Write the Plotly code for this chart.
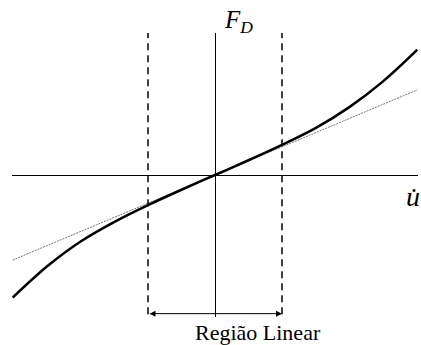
import plotly.graph_objects as go

# Damping force F_D against velocity u-dot (nondimensional units)
u_curve = [-3.02, -2.5, -2.0, -1.5, -1.0, -0.5, 0.0, 0.5, 1.0, 1.5, 2.0, 2.5, 3.02]
f_curve = [-1.83, -1.36, -0.99, -0.70, -0.45, -0.22, 0.0, 0.22, 0.45, 0.70, 1.01, 1.39, 1.87]

# Linear approximation (tangent at the origin)
u_lin = [-3.02, 3.02]
f_lin = [-1.27, 1.27]

# Limits of the linear region
region = [-1.0, 1.0]

# Plot-area geometry in pixels (used to place the text labels)
W, H = 421, 345
ML, MR, MT, MB = 12, 3, 33, 28
PW, PH = W - ML - MR, H - MT - MB


def px(xp, yp):
    return (xp - ML) / PW, (H - MB - yp) / PH


fig = go.Figure()
fig.add_trace(go.Scatter(x=u_lin, y=f_lin, mode="lines",
                         line=dict(color="#777777", width=1, dash="2px,1px")))
fig.add_trace(go.Scatter(x=u_curve, y=f_curve, mode="lines", line_shape="spline",
                         line=dict(color="black", width=2.5, smoothing=1.0)))

for xv in region:
    fig.add_shape(type="line", xref="x", yref="paper", x0=xv, x1=xv, y0=0.01, y1=1.0,
                  line=dict(color="black", width=1.5, dash="7px,5px"))

# Double-headed arrow spanning the linear region
fig.add_annotation(x=region[1], y=-2.07, ax=region[0], ay=-2.07, xref="x", yref="y",
                   axref="x", ayref="y", text="", showarrow=True, arrowhead=2,
                   startarrowhead=2, arrowside="end+start", arrowsize=1.2,
                   startarrowsize=1.2, arrowwidth=1, arrowcolor="black")

serif = "Liberation Serif, Times New Roman, serif"
x, y = px(258, 332)
fig.add_annotation(xref="paper", yref="paper", x=x, y=y, xanchor="center", yanchor="middle",
                   showarrow=False, text="Região Linear",
                   font=dict(family=serif, size=22, color="black"))
x, y = px(222, 21)
fig.add_annotation(xref="paper", yref="paper", x=x, y=y, xanchor="left", yanchor="middle",
                   showarrow=False, text="<i>F</i><sub><i>D</i></sub>",
                   font=dict(family=serif, size=25, color="black"))
x, y = px(413, 196)
fig.add_annotation(xref="paper", yref="paper", x=x, y=y, xanchor="center", yanchor="middle",
                   showarrow=False, text="<i>u\u0307</i>",
                   font=dict(family=serif, size=28, color="black"))

fig.update_xaxes(range=[-3.03, 3.03], showgrid=False, showticklabels=False, ticks="",
                 zeroline=True, zerolinecolor="black", zerolinewidth=1, showline=False)
fig.update_yaxes(range=[-2.12, 2.12], showgrid=False, showticklabels=False, ticks="",
                 zeroline=True, zerolinecolor="black", zerolinewidth=1, showline=False)
fig.update_layout(width=W, height=H, showlegend=False,
                  margin=dict(l=ML, r=MR, t=MT, b=MB),
                  plot_bgcolor="white", paper_bgcolor="white")

fig.write_html("out.html")
